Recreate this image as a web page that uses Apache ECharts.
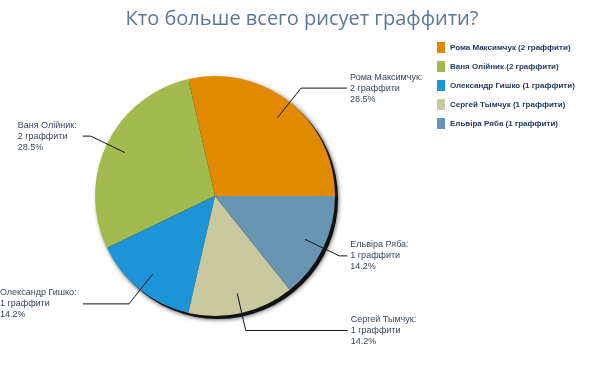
<!DOCTYPE html>
<html>
<head>
<meta charset="utf-8">
<script src="https://cdn.jsdelivr.net/npm/echarts@6/dist/echarts.min.js"></script>
<style>
html,body{margin:0;padding:0;background:#fff;}
#c{width:604px;height:378px;}
</style>
</head>
<body>
<div id="c"></div>
<script>
const titleText = 'Кто больше всего рисует граффити?';
const names = ['Рома Максимчук', 'Ваня Олійник', 'Олександр Гишко', 'Сергей Тымчук', 'Ельвіра Ряба'];
const values = [2, 2, 1, 1, 1];
const colors = ['#E18A00', '#A3BB4E', '#1E94D8', '#C8C99E', '#6795B2'];
const unit = 'граффити';
const lineLen2 = [46, 8, 46, 102, 8];

const total = values.reduce((a, b) => a + b, 0);
const pct = v => (Math.floor(v / total * 1000) / 10).toFixed(1);
const labelLines = (i) => [names[i] + ':', values[i] + ' ' + unit, pct(values[i]) + '%'];

const labelFont = '9px "Liberation Sans"';
const ctx = document.createElement('canvas').getContext('2d');
ctx.font = labelFont;
const blockWidth = i => Math.ceil(Math.max.apply(null, labelLines(i).map(s => ctx.measureText(s).width))) + 3;

const chart = echarts.init(document.getElementById('c'));
const center = [215, 196];

chart.setOption({
  animation: false,
  title: {
    text: titleText,
    left: 'center',
    top: 4,
    textStyle: { fontFamily: 'Open Sans', fontWeight: 'normal', fontSize: 20, color: '#5B7896' }
  },
  legend: {
    orient: 'vertical',
    left: 432,
    top: 37,
    itemWidth: 8,
    itemHeight: 11,
    itemGap: 8,
    icon: 'rect',
    data: names,
    formatter: n => n + ' (' + values[names.indexOf(n)] + ' ' + unit + ')',
    textStyle: { fontFamily: 'Liberation Sans', fontWeight: 'bold', fontSize: 8, color: '#1D3557' }
  },
  series: [
    {
      type: 'pie',
      name: 'main',
      center: center,
      radius: 120,
      startAngle: 0,
      clockwise: false,
      z: 3,
      silent: true,
      label: { show: false },
      labelLine: { show: false },
      itemStyle: { borderWidth: 0 },
      data: names.map((n, i) => ({ name: n, value: values[i], itemStyle: { color: colors[i] } }))
    },
    {
      type: 'pie',
      name: 'shadow',
      center: [center[0] + 3, center[1] + 3],
      radius: 120,
      z: 1,
      silent: true,
      label: { show: false },
      labelLine: { show: false },
      itemStyle: { color: '#111', borderWidth: 0, shadowBlur: 5, shadowColor: 'rgba(0,0,0,0.8)' },
      data: [{ value: total, name: '' }]
    },
    {
      type: 'pie',
      name: 'labels',
      center: center,
      radius: 100,
      startAngle: 0,
      clockwise: false,
      z: 5,
      silent: true,
      avoidLabelOverlap: false,
      itemStyle: { color: 'rgba(0,0,0,0)' },
      label: {
        show: true,
        position: 'outside',
        distanceToLabelLine: 3,
        overflow: 'none',
        fontFamily: 'Liberation Sans',
        fontSize: 9,
        lineHeight: 11,
        color: '#3A4656',
        formatter: p => labelLines(p.dataIndex).map(s => '{a|' + s + '}').join('\n')
      },
      labelLine: { show: true, smooth: false, length: 38, lineStyle: { color: '#111', width: 1 } },
      data: names.map((n, i) => ({
        name: n,
        value: values[i],
        labelLine: { length2: lineLen2[i] },
        label: {
          rich: {
            a: {
              width: blockWidth(i),
              align: 'left',
              fontFamily: 'Liberation Sans',
              fontSize: 9,
              lineHeight: 11,
              color: '#3A4656'
            }
          }
        }
      }))
    }
  ]
});
</script>
</body>
</html>
